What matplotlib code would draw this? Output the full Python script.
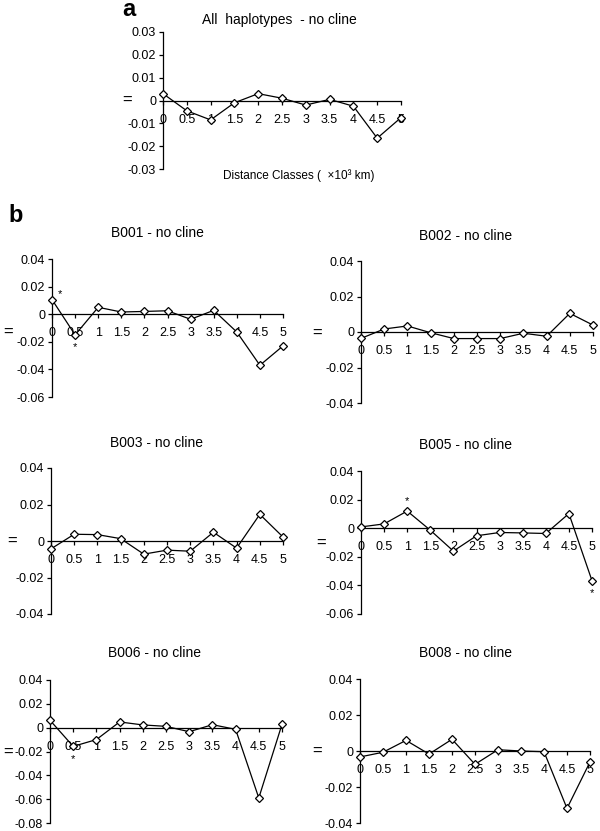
import matplotlib
matplotlib.use("Agg")
import matplotlib.pyplot as plt

plt.rcParams['font.family'] = ['Liberation Sans', 'DejaVu Sans']

# ---------------- data ----------------
distance_classes = [0, 0.5, 1, 1.5, 2, 2.5, 3, 3.5, 4, 4.5, 5]
x_tick_labels = ["0", "0.5", "1", "1.5", "2", "2.5", "3", "3.5", "4", "4.5", "5"]

all_haplotypes = [0.003, -0.0045, -0.0085, -0.001, 0.003, 0.001, -0.002, 0.0005, -0.0025, -0.0165, -0.0075]
b001 = [0.0106, -0.015, 0.005, 0.0016, 0.002, 0.0025, -0.0037, 0.0028, -0.0129, -0.037, -0.023]
b002 = [-0.0036, 0.0017, 0.0034, -0.0004, -0.0037, -0.0037, -0.0037, -0.0007, -0.0024, 0.0105, 0.0039]
b003 = [-0.0043, 0.0037, 0.0035, 0.0013, -0.0072, -0.005, -0.0056, 0.0048, -0.0039, 0.0146, 0.0022]
b005 = [0.0009, 0.003, 0.012, -0.0014, -0.016, -0.0053, -0.003, -0.0033, -0.0037, 0.0102, -0.0367]
b006 = [0.0062, -0.0157, -0.010, 0.0048, 0.0023, 0.0011, -0.0034, 0.0025, -0.0014, -0.059, 0.0028]
b008 = [-0.0033, -0.0007, 0.0059, -0.0017, 0.0065, -0.0074, 0.0007, 0.0, -0.0004, -0.0319, -0.0061]

titles = ["All  haplotypes  - no cline", "B001 - no cline", "B002 - no cline", "B003 - no cline",
          "B005 - no cline", "B006 - no cline", "B008 - no cline"]

yticks_a = [-0.03, -0.02, -0.01, 0, 0.01, 0.02, 0.03]
yticklabels_a = ["-0.03", "-0.02", "-0.01", "0", "0.01", "0.02", "0.03"]
yticks_b001 = [-0.06, -0.04, -0.02, 0, 0.02, 0.04]
yticklabels_b001 = ["-0.06", "-0.04", "-0.02", "0", "0.02", "0.04"]
yticks_b002 = [-0.04, -0.02, 0, 0.02, 0.04]
yticklabels_b002 = ["-0.04", "-0.02", "0", "0.02", "0.04"]
yticks_b006 = [-0.08, -0.06, -0.04, -0.02, 0, 0.02, 0.04]
yticklabels_b006 = ["-0.08", "-0.06", "-0.04", "-0.02", "0", "0.02", "0.04"]

# significant points (x value, position of the asterisk)
sig_b001 = [(0, 'right'), (0.5, 'below')]
sig_b005 = [(1, 'above'), (5, 'below')]
sig_b006 = [(0.5, 'below')]

# ---------------- figure ----------------
W, H = 600, 831
fig = plt.figure(figsize=(W / 100, H / 100), dpi=100)


def px_axes(l, r, t, b):
    return fig.add_axes([l / W, 1 - b / H, (r - l) / W, (b - t) / H])


def draw(ax, values, yticks, yticklabels, sig=()):
    ax.plot(distance_classes, values, color='black', lw=0.9, marker='D', ms=4.5,
            mfc='white', mec='black', mew=0.9, clip_on=False, zorder=3)
    ax.set_xlim(0, 5)
    ax.set_ylim(yticks[0], yticks[-1])
    ax.set_yticks(yticks)
    ax.set_yticklabels(yticklabels)
    ax.set_xticks(distance_classes)
    ax.set_xticklabels(x_tick_labels)
    for s in ['top', 'right']:
        ax.spines[s].set_visible(False)
    ax.spines['bottom'].set_position(('data', 0))
    for s in ['left', 'bottom']:
        ax.spines[s].set_linewidth(0.9)
    ax.tick_params(axis='both', direction='out', length=3, width=0.9, labelsize=9, pad=2)
    ax.tick_params(axis='x', pad=6.5)
    ax.patch.set_alpha(0)
    for xv, where in sig:
        yv = values[distance_classes.index(xv)]
        off = {'right': (6, 4), 'below': (0, -9), 'above': (0, 7)}[where]
        ax.annotate('*', (xv, yv), xytext=off, textcoords='offset points',
                    ha='center', va='center', fontsize=8)


# panel a
ax_a = px_axes(163, 401, 32, 169)
draw(ax_a, all_haplotypes, yticks_a, yticklabels_a)
fig.text(279 / W, 1 - 20 / H, titles[0], ha='center', va='center', fontsize=10)
fig.text(299 / W, 1 - 176 / H, "Distance Classes (  \u00d710\u00b3 km)", ha='center', va='center', fontsize=8.5)
fig.text(122 / W, 1 - 10 / H, "a", ha='left', va='center', fontsize=17, fontweight='bold')
fig.text(127 / W, 1 - 100 / H, "=", ha='center', va='center', fontsize=12)

# panel b
fig.text(8 / W, 1 - 215 / H, "b", ha='left', va='center', fontsize=17, fontweight='bold')

specs = [
    # (l, r, t, b, values, yticks, labels, sig, title xy, eq xy)
    (52, 283, 259, 397, b001, yticks_b001, yticklabels_b001, sig_b001, (157, 233), (8, 332)),
    (361, 593, 261, 403, b002, yticks_b002, yticklabels_b002, (), (466, 236), (317, 333)),
    (51, 283, 468, 614, b003, yticks_b002, yticklabels_b002, (), (156, 443), (12, 541)),
    (361, 592, 471, 614, b005, yticks_b001, yticklabels_b001, sig_b005, (466, 445), (321, 543)),
    (50, 282, 680, 823, b006, yticks_b006, yticklabels_b006, sig_b006, (154, 653), (8, 752)),
    (360, 590, 679, 823, b008, yticks_b002, yticklabels_b002, (), (466, 653), (317, 751)),
]

for i, (l, r, t, b, vals, yt, ytl, sig, txy, exy) in enumerate(specs):
    ax = px_axes(l, r, t, b)
    draw(ax, vals, yt, ytl, sig)
    fig.text(txy[0] / W, 1 - txy[1] / H, titles[i + 1], ha='center', va='center', fontsize=10)
    fig.text(exy[0] / W, 1 - exy[1] / H, "=", ha='center', va='center', fontsize=12)

fig.savefig("out.png", dpi=100, facecolor='white')
